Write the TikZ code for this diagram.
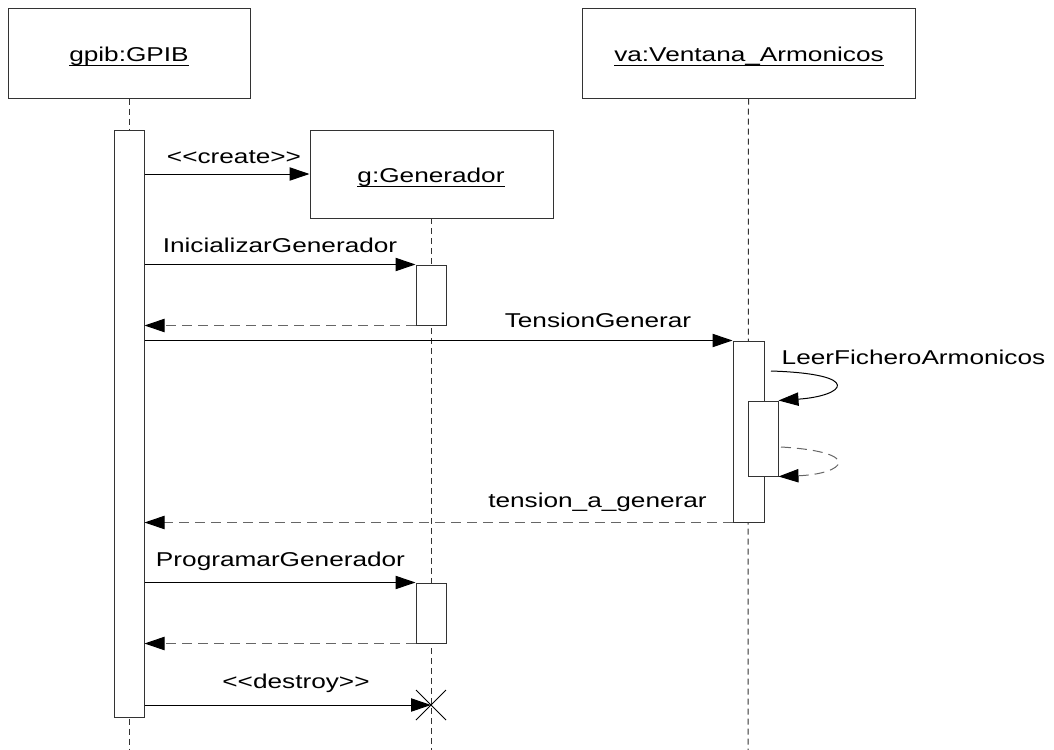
\documentclass[tikz,border=0pt]{standalone}
\usepackage{fontspec}
\setmainfont{Liberation Sans}[FakeStretch=1.31]
\usetikzlibrary{arrows.meta}
% underline that sits close under the baseline
\newcommand\objname[1]{\setbox0\hbox{#1}\rlap{\rule[-3.4pt]{\wd0}{0.75pt}}\box0}
% stereotype brackets kept as two separate angle signs
\newcommand\stereo[1]{<\kern0pt<#1>\kern0pt>}
\begin{document}
\begin{tikzpicture}[x=0.75pt,y=-0.75pt,
  every node/.style={font=\fontsize{15}{18}\selectfont},
  obj/.style={draw=black!80, line width=0.75pt, fill=white, inner sep=0pt},
  act/.style={draw=black!80, line width=0.75pt, fill=white, inner sep=0pt, minimum width=22.5pt},
  life/.style={draw=black!80, line width=0.75pt, dash pattern=on 4.5pt off 3pt},
  msg/.style={draw=black, line width=0.75pt, -{Triangle[length=15pt,width=10pt]}},
  ret/.style={draw=black!60, line width=0.75pt, dash pattern=on 7.5pt off 4.5pt, -{Triangle[length=15pt,width=10pt,color=black]}},
  lbl/.style={inner sep=0pt, anchor=base}
]
\useasboundingbox (0,0) rectangle (1054,750);

% object boxes
\node[obj, minimum width=181.5pt, minimum height=67.5pt] (gpib) at (129,53) {};
\node[lbl] at (129,61) {\objname{gpib:GPIB}};
\node[obj, minimum width=249.75pt, minimum height=67.5pt] (va) at (748.5,53) {};
\node[lbl] at (749,61) {\objname{va:Ventana\_Armonicos}};

% lifelines
\coordinate (gpibend) at (129,750);
\coordinate (gend) at (431,750);
\coordinate (vaend) at (748,750);
\draw[life] (gpib.south) -- (gpibend);
\draw[life] (va.south) -- (vaend);
\draw[life] (431,218) -- (gend);

% created object
\node[obj, minimum width=182.25pt, minimum height=66pt] (gbox) at (431.5,174) {};
\node[lbl] at (431,182) {\objname{g:Generador}};

% activation bars
\node[act, minimum height=440.25pt] (act0) at (129,423.5) {};
\node[act, minimum height=45pt] (g1) at (431,295) {};
\node[act, minimum height=45pt] (g2) at (431,613) {};
\node[act, minimum height=135.75pt, minimum width=23.25pt] (va1) at (748.5,431.5) {};
\node[act, minimum height=56.25pt] (va2) at (763,438.5) {};

% messages
\draw[msg] (act0.east |- gbox.west) -- (gbox.west);
\node[lbl] at (234,163) {\stereo{create}};

\draw[msg] (act0.east |- g1.north west) -- (g1.north west);
\node[lbl] at (280,252) {InicializarGenerador};
\draw[ret] (g1.south west) -- (act0.east |- g1.south west);

\draw[msg] (act0.east |- va1.north west) -- (va1.north west);
\node[lbl] at (598,327) {TensionGenerar};

\coordinate (selfA) at (771,371);
\draw[msg] (selfA) .. controls (865,374) and (845,396) .. (va2.north east);
\node[lbl] at (913.5,364) {LeerFicheroArmonicos};

\coordinate (selfB) at (781,447);
\draw[ret] (selfB) .. controls (865,452) and (845,474) .. (va2.south east);

\draw[ret] (va1.south west) -- (act0.east |- va1.south west);
\node[lbl] at (597.5,507.5) {tension\_a\_generar};

\draw[msg] (act0.east |- g2.north west) -- (g2.north west);
\node[lbl] at (280.5,566.5) {ProgramarGenerador};
\draw[ret] (g2.south west) -- (act0.east |- g2.south west);

% destruction
\coordinate (kill) at (431,705);
\draw[msg] (act0.east |- kill) -- (kill);
\node[lbl] at (296,688) {\stereo{destroy}};
\draw[line width=0.75pt] (416,690) -- (446,720) (416,720) -- (446,690);
\end{tikzpicture}
\end{document}
